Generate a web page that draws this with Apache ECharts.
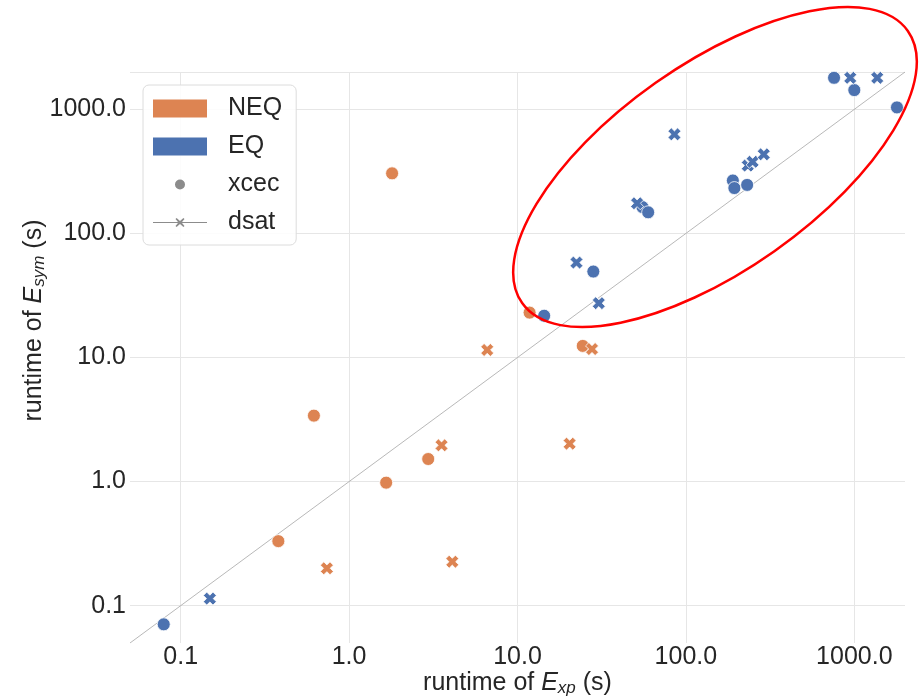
<!DOCTYPE html>
<html>
<head>
<meta charset="utf-8">
<script src="https://cdn.jsdelivr.net/npm/echarts@6/dist/echarts.min.js"></script>
<style>
  html, body { margin: 0; padding: 0; background: #fff; }
  #chart { width: 920px; height: 698px; }
</style>
</head>
<body>
<div id="chart"></div>
<script>
  // runtimes [E_xp, E_sym] in seconds
  var neqXcec = [[1.80, 305], [0.618, 3.40], [0.380, 0.331], [1.66, 0.98], [2.95, 1.52], [11.8, 23.0], [24.4, 12.4]];
  var neqDsat = [[6.61, 11.5], [3.54, 1.96], [0.738, 0.20], [4.10, 0.226], [20.4, 2.02], [27.7, 11.7]];
  var eqXcec = [[0.0793, 0.0707], [14.4, 21.7], [28.2, 49.3], [55.2, 163], [59.7, 148], [190, 267], [194, 232],
                [231, 246], [758, 1795], [1000, 1429], [1792, 1037]];
  var eqDsat = [[0.149, 0.114], [22.4, 58.2], [30.4, 27.4], [51.3, 175], [85.5, 629], [233, 352], [249, 378],
                [290, 434], [946, 1795], [1368, 1795]];
  var axisRange = [0.05, 2000];
  var legendNames = ['NEQ', 'EQ', 'xcec', 'dsat'];

  var ORANGE = '#DD8452';
  var BLUE = '#4C72B0';
  var GREY = '#8c8c8c';
  var TXT = '#262626';
  var FONT = "'Liberation Sans', Arial, sans-serif";

  // filled "X" marker like matplotlib's
  var xMark = 'path://M2.6 0L5 2.4L7.4 0L10 2.6L7.6 5L10 7.4L7.4 10L5 7.6L2.6 10L0 7.4L2.4 5L0 2.6Z';

  function tickLabel(v) {
    var l = Math.log10(v);
    if (Math.abs(l - Math.round(l)) > 1e-6) return '';
    return v.toFixed(1);
  }

  function pts(name, data, color, symbol, size) {
    return {
      name: name,
      type: 'scatter',
      data: data,
      symbol: symbol,
      symbolSize: size,
      itemStyle: { color: color, borderColor: '#fff', borderWidth: 0.8, opacity: 1 },
      emphasis: { disabled: true },
      z: 3
    };
  }

  function dummy(name, color) {
    return { name: name, type: 'scatter', data: [], itemStyle: { color: color, opacity: 1 } };
  }

  var titleRich = {
    n: { fontSize: 25, color: TXT, fontFamily: FONT },
    e: { fontSize: 25, color: TXT, fontStyle: 'italic', fontFamily: FONT },
    s: { fontSize: 17, color: TXT, fontStyle: 'italic', fontFamily: FONT, padding: [10, 0, 0, 0] }
  };

  var myChart = echarts.init(document.getElementById('chart'), null, { renderer: 'canvas' });

  var option = {
    animation: false,
    backgroundColor: '#fff',
    textStyle: { fontFamily: FONT },
    grid: { left: 130, right: 15, top: 72, bottom: 55, outerBoundsMode: 'none', containLabel: false },
    xAxis: {
      type: 'log',
      min: axisRange[0],
      max: axisRange[1],
      axisLine: { show: false },
      axisTick: { show: false },
      axisLabel: { formatter: tickLabel, fontSize: 25, color: TXT, margin: 2, fontFamily: FONT,
                   showMinLabel: false, showMaxLabel: false },
      splitLine: { show: true, showMinLine: false, showMaxLine: false, lineStyle: { color: '#e6e6e6', width: 1 } },
      minorTick: { show: false },
      name: '{n|runtime of }{e|E}{s|xp}{n| (s)}',
      nameLocation: 'middle',
      nameGap: 27,
      nameMoveOverlap: false,
      nameTextStyle: { rich: titleRich }
    },
    yAxis: {
      type: 'log',
      min: axisRange[0],
      max: axisRange[1],
      axisLine: { show: false },
      axisTick: { show: false },
      axisLabel: { formatter: tickLabel, fontSize: 25, color: TXT, margin: 4, fontFamily: FONT,
                   showMinLabel: false, showMaxLabel: false },
      splitLine: { show: true, showMinLine: false, showMaxLine: true, lineStyle: { color: '#e6e6e6', width: 1 } },
      name: '{n|runtime of }{e|E}{s|sym}{n| (s)}',
      nameLocation: 'middle',
      nameGap: 82,
      nameMoveOverlap: false,
      nameTextStyle: { padding: [0, 0, 0, 74], rich: titleRich }
    },
    legend: {
      orient: 'vertical',
      left: 143,
      top: 85,
      padding: [11, 14, 10, 10],
      itemWidth: 70,
      itemHeight: 18,
      itemGap: 13,
      backgroundColor: 'rgba(255,255,255,0.85)',
      borderColor: '#dcdcdc',
      borderWidth: 1,
      borderRadius: 6,
      textStyle: { fontSize: 25, color: TXT, fontFamily: FONT },
      selectedMode: false,
      data: [
        { name: legendNames[0], icon: 'path://M0 9L70 9Z M0 0L54 0L54 18L0 18Z' },
        { name: legendNames[1], icon: 'path://M0 9L70 9Z M0 0L54 0L54 18L0 18Z' },
        { name: legendNames[2], icon: 'path://M0 9L70 9Z M22 9A5 5 0 1 0 32 9A5 5 0 1 0 22 9Z' },
        { name: legendNames[3], icon: 'path://M0 9L70 9Z M0 8.6L54 8.6L54 9.4L0 9.4Z M23.6 4.5L27 7.4L30.4 4.5L31.5 5.6L28.6 9L31.5 12.4L30.4 13.5L27 10.6L23.6 13.5L22.5 12.4L25.4 9L22.5 5.6Z' }
      ]
    },
    graphic: [
      {
        type: 'ellipse',
        x: 715,
        y: 167,
        rotation: 35.2 * Math.PI / 180,
        shape: { cx: 0, cy: 0, rx: 236, ry: 103 },
        style: { fill: 'none', stroke: '#ff0000', lineWidth: 2.5 },
        z: 100
      }
    ],
    series: [
      {
        name: 'diag',
        type: 'line',
        data: [[axisRange[0], axisRange[0]], [axisRange[1], axisRange[1]]],
        symbol: 'none',
        silent: true,
        lineStyle: { color: '#a6a6a6', width: 0.8 },
        z: 1
      },
      pts('NEQ-xcec', neqXcec, ORANGE, 'circle', 13),
      pts('NEQ-dsat', neqDsat, ORANGE, xMark, 13),
      pts('EQ-xcec', eqXcec, BLUE, 'circle', 13),
      pts('EQ-dsat', eqDsat, BLUE, xMark, 13),
      dummy(legendNames[0], ORANGE),
      dummy(legendNames[1], BLUE),
      dummy(legendNames[2], GREY),
      dummy(legendNames[3], GREY)
    ]
  };

  myChart.setOption(option);
</script>
</body>
</html>
